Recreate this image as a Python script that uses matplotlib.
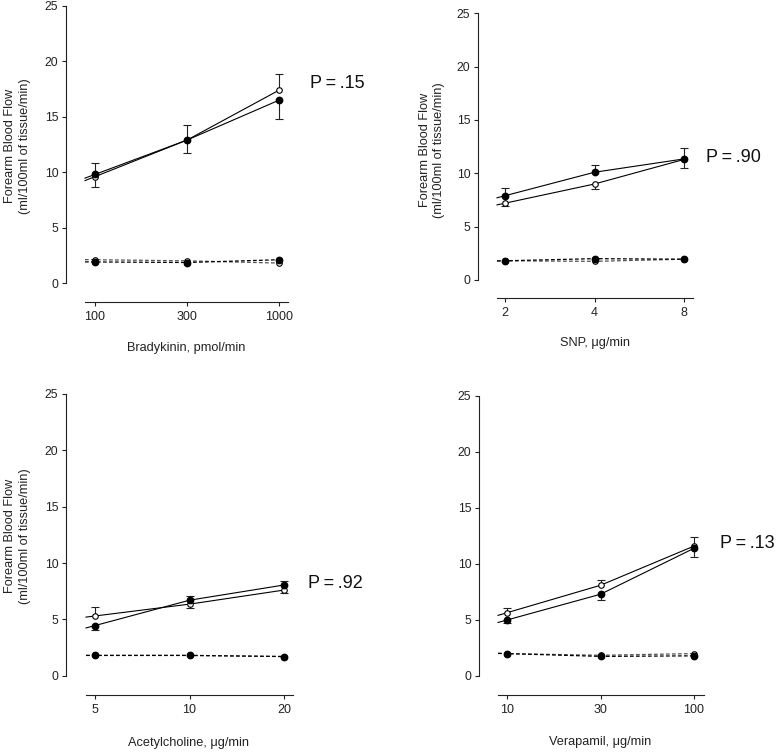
import matplotlib
matplotlib.use("Agg")
import matplotlib.pyplot as plt
import numpy as np

plt.rcParams['font.family'] = ['Liberation Sans', 'DejaVu Sans']

# ---------------- data ----------------
bk_ticks = ["100", "300", "1000"]
bk_open = [9.6, 12.9, 17.4]
bk_open_up = [1.2, 1.4, 1.5]
bk_open_dn = [0, 0, 0]
bk_fill = [9.8, 12.9, 16.5]
bk_fill_up = [0, 0, 0]
bk_fill_dn = [1.1, 1.2, 1.7]
bk_open_base = [2.1, 2.0, 1.8]
bk_fill_base = [1.9, 1.85, 2.1]

snp_ticks = ["2", "4", "8"]
snp_open = [7.2, 9.0, 11.3]
snp_open_up = [0, 0, 0]
snp_open_dn = [0.3, 0.5, 0.8]
snp_fill = [7.9, 10.1, 11.35]
snp_fill_up = [0.7, 0.7, 1.0]
snp_fill_dn = [0, 0, 0]
snp_open_base = [1.8, 1.75, 1.95]
snp_fill_base = [1.8, 2.0, 1.95]

ach_ticks = ["5", "10", "20"]
ach_open = [5.3, 6.35, 7.6]
ach_open_up = [0.8, 0, 0]
ach_open_dn = [0, 0.35, 0.3]
ach_fill = [4.45, 6.7, 8.05]
ach_fill_up = [0, 0.4, 0.35]
ach_fill_dn = [0.35, 0, 0]
ach_open_base = [1.8, 1.8, 1.7]
ach_fill_base = [1.8, 1.8, 1.7]

ver_ticks = ["10", "30", "100"]
ver_open = [5.65, 8.1, 11.6]
ver_open_up = [0.45, 0.5, 0.8]
ver_open_dn = [0, 0, 0]
ver_fill = [5.0, 7.3, 11.4]
ver_fill_up = [0, 0, 0]
ver_fill_dn = [0.3, 0.5, 0.8]
ver_open_base = [2.0, 1.85, 2.0]
ver_fill_base = [2.0, 1.75, 1.8]

y_ticks = [0, 5, 10, 15, 20, 25]
ylabel_text = "Forearm Blood Flow\n(ml/100ml of tissue/min)"

W, H = 778, 752
fig = plt.figure(figsize=(W / 100, H / 100), dpi=100)


def fx(x):
    return x / W


def fy(y):
    return 1 - y / H


def series(ax, xs, ys, x_start, filled, dashed, up, dn):
    xs = np.asarray(xs, float)
    ys = np.asarray(ys, float)
    slope = (ys[1] - ys[0]) / (xs[1] - xs[0])
    lx = np.concatenate([[x_start], xs])
    ly = np.concatenate([[ys[0] - slope * (xs[0] - x_start)], ys])
    if dashed:
        col = 'black' if filled else '#555555'
        ax.plot(lx, ly, color=col, lw=0.9, ls=(0, (3, 1.8)), zorder=2)
    else:
        ax.plot(lx, ly, color='black', lw=0.8, zorder=2)
    up = np.asarray(up, float)
    dn = np.asarray(dn, float)
    for xi, yi, u, d in zip(xs, ys, up, dn):
        if u > 0:
            ax.vlines(xi, yi, yi + u, color='#222222', lw=0.8, zorder=1)
            ax.plot([xi], [yi + u], marker='_', ms=6, mew=0.8, color='#222222', zorder=1)
        if d > 0:
            ax.vlines(xi, yi - d, yi, color='#222222', lw=0.8, zorder=1)
            ax.plot([xi], [yi - d], marker='_', ms=6, mew=0.8, color='#222222', zorder=1)
    if filled:
        ax.plot(xs, ys, ls='none', marker='o', ms=4.6, mfc='black', mec='black', zorder=4)
    else:
        ax.plot(xs, ys, ls='none', marker='o', ms=4.0, mfc='white', mec='black', mew=0.8, zorder=3)


def panel(geom, ticks, o, o_up, o_dn, f, f_up, f_dn, ob, fb, ptxt, ppos, xlabel, xlpos, ylpos):
    yax, y0, y25, xay, xs_l, xs_r, t0, t2 = geom
    ax = fig.add_axes([fx(yax), fy(y0), fx(xs_r - yax), (y0 - y25) / H])
    s = (t2 - t0) / 2.0
    xlim = ((yax - t0) / s, (xs_r - t0) / s)
    x_start = (xs_l - t0) / s
    ax.set_xlim(*xlim)
    ax.set_ylim(0, 25)
    cats = np.arange(len(ticks))
    series(ax, cats, ob, x_start, False, True, [0] * 3, [0] * 3)
    series(ax, cats, fb, x_start, True, True, [0] * 3, [0] * 3)
    series(ax, cats, o, x_start, False, False, o_up, o_dn)
    series(ax, cats, f, x_start, True, False, f_up, f_dn)
    for sp in ['top', 'right']:
        ax.spines[sp].set_visible(False)
    ax.spines['left'].set_bounds(0, 25)
    ax.spines['bottom'].set_position(('outward', (xay - y0) * 0.72))
    ax.spines['bottom'].set_bounds(x_start, xlim[1])
    for sp in ['left', 'bottom']:
        ax.spines[sp].set_linewidth(0.8)
        ax.spines[sp].set_color('#222222')
    ax.set_yticks(y_ticks)
    ax.set_xticks(cats)
    ax.set_xticklabels(ticks)
    ax.tick_params(axis='y', length=3, width=0.8, pad=2.5, labelsize=8.8, colors='#222222')
    ax.tick_params(axis='x', length=3, width=0.8, pad=3.5, labelsize=9.0, colors='#222222')
    ax.patch.set_alpha(0)
    fig.text(fx(ppos[0]), fy(ppos[1]), ptxt, ha='left', va='center', fontsize=13, color='#111111')
    fig.text(fx(xlpos[0]), fy(xlpos[1]), xlabel, ha='center', va='center', fontsize=9.2, color='#222222')
    if ylpos is not None:
        fig.text(fx(ylpos[0]), fy(ylpos[1]), ylabel_text, ha='center', va='center', rotation=90,
                 fontsize=9.2, color='#222222', linespacing=1.3, multialignment='center')
    return ax


panel((66, 283, 6, 302, 85, 288, 95, 279), bk_ticks,
      bk_open, bk_open_up, bk_open_dn, bk_fill, bk_fill_up, bk_fill_dn,
      bk_open_base, bk_fill_base, "P\u2009=\u2009.15", (310, 84),
      "Bradykinin, pmol/min", (186, 348), (17.5, 146))

panel((478, 280, 13.3, 298, 497, 693, 505, 684), snp_ticks,
      snp_open, snp_open_up, snp_open_dn, snp_fill, snp_fill_up, snp_fill_dn,
      snp_open_base, snp_fill_base, "P\u2009=\u2009.90", (706, 157),
      "SNP, \u03bcg/min", (595, 343), (432, 150))

panel((66, 675.7, 394, 695, 86, 293, 95, 284), ach_ticks,
      ach_open, ach_open_up, ach_open_dn, ach_fill, ach_fill_up, ach_fill_dn,
      ach_open_base, ach_fill_base, "P\u2009=\u2009.92", (308, 583),
      "Acetylcholine, \u03bcg/min", (189, 743), (17.5, 536))

panel((479, 676, 396, 695, 498, 704, 507, 694), ver_ticks,
      ver_open, ver_open_up, ver_open_dn, ver_fill, ver_fill_up, ver_fill_dn,
      ver_open_base, ver_fill_base, "P\u2009=\u2009.13", (720, 543),
      "Verapamil, \u03bcg/min", (600, 742), None)

fig.savefig("out.png", dpi=100)
